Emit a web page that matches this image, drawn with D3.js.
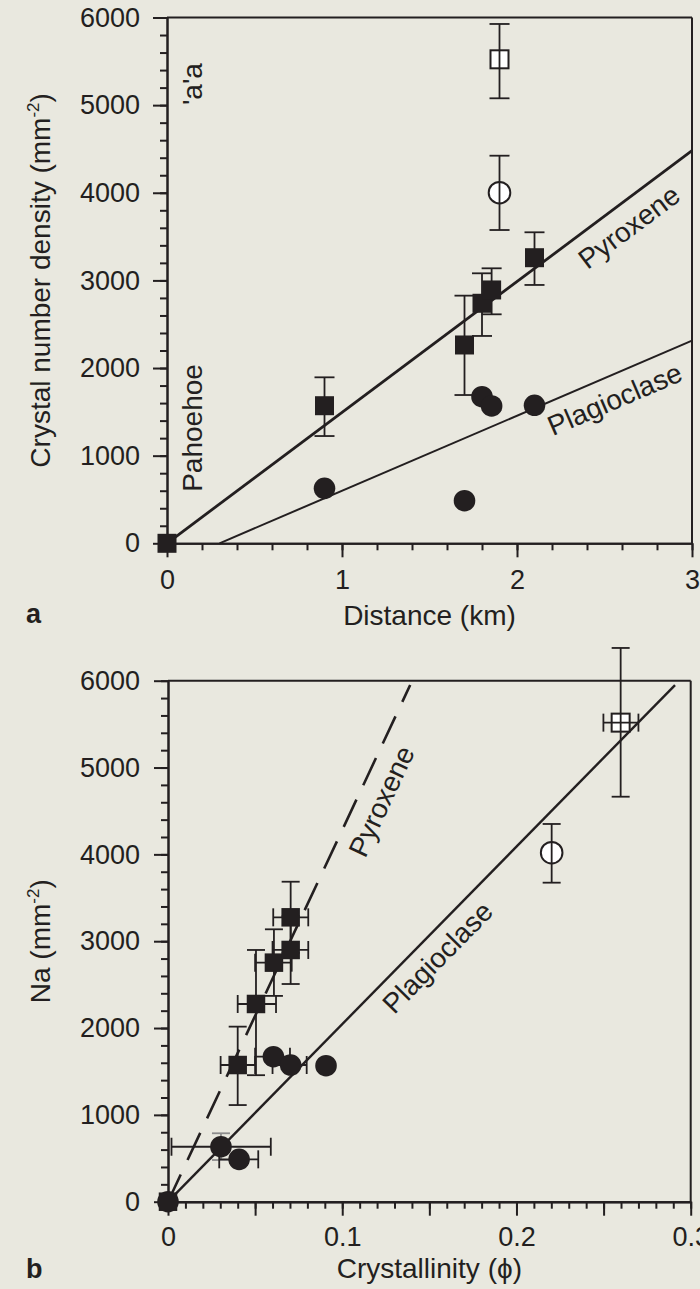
<!DOCTYPE html>
<html>
<head>
<meta charset="utf-8">
<script src="https://cdn.jsdelivr.net/npm/d3@7"></script>
<style>
  html, body { margin: 0; padding: 0; background: #e9e8df; }
  svg { display: block; }
  text { font-family: "Liberation Sans", Arial, Helvetica, sans-serif; fill: #231f20; }
</style>
</head>
<body>
<svg id="chart" width="700" height="1289"></svg>
<script>
// ---------- Panel a: crystal number density vs distance ----------
const distPyx     = [0, 0.9, 1.7, 1.8, 1.855, 2.1];
const densPyx     = [0, 1570, 2263, 2739, 2891, 3259];
const densPyxLo   = [null, 1224, 1692, 2366, 2613, 2948];
const densPyxHi   = [null, 1894, 2826, 3081, 3138, 3549];
const distPlag    = [0.9, 1.7, 1.8, 1.855, 2.1];
const densPlag    = [627, 486, 1673, 1567, 1575];
// 'a'a sample (open symbols)
const distAa      = [1.9];
const densAaPyx   = [5523];
const densAaPyxLo = [5078];
const densAaPyxHi = [5926];
const densAaPlag   = [4001];
const densAaPlagLo = [3575];
const densAaPlagHi = [4423];
// Linear trends
const fitDistPyx  = [0, 3];
const fitDensPyx  = [0, 4480];
const fitDistPlag = [0.3, 3];
const fitDensPlag = [0, 2312];
const distTicks     = [0, 1, 2, 3];
const densTicks     = [0, 1000, 2000, 3000, 4000, 5000, 6000];

// ---------- Panel b: areal number density vs crystallinity ----------
const phiPyx     = [0, 0.0400, 0.0505, 0.0608, 0.0704, 0.0704];
const naPyx      = [0, 1574, 2277, 2753, 2899, 3275];
const naPyxLo    = [null, 1113, 1457, 2370, 2507, 2865];
const naPyxHi    = [null, 2016, 2899, 3137, 3290, 3685];
const phiPyxLo   = [null, 0.0302, 0.0400, 0.0500, 0.0600, 0.0604];
const phiPyxHi   = [null, 0.0500, 0.0620, 0.0710, 0.0805, 0.0805];
const phiPlag    = [0, 0.0304, 0.0408, 0.0605, 0.0704, 0.0907];
const naPlag     = [0, 633, 488, 1670, 1574, 1566];
const phiPlagLo  = [null, 0.0020, 0.0294, 0.0500, 0.0600, null];
const phiPlagHi  = [null, 0.0590, 0.0518, 0.0700, 0.0796, null];
const naPlagLo   = [null, 480, null, null, null, null];
const naPlagHi   = [null, 788, null, null, null, null];
const phiAa      = [0.2598];
const naAaPyx    = [5517];
const naAaPyxLo  = [4664];
const naAaPyxHi  = [6377];
const phiAaPyxLo = [0.2499];
const phiAaPyxHi = [0.2700];
const phiAaPlag  = [0.2202];
const naAaPlag   = [4019];
const naAaPlagLo = [3674];
const naAaPlagHi = [4350];
const fitPhiPyx  = [0, 0.139];
const fitNaPyx   = [0, 5950];
const fitPhiPlag = [0, 0.291];
const fitNaPlag  = [0, 5950];
const phiTicks   = [0, 0.1, 0.2, 0.3];
const naTicks    = [0, 1000, 2000, 3000, 4000, 5000, 6000];

const INK = "#231f20";
const svg = d3.select("#chart");
svg.append("rect").attr("width", 700).attr("height", 1289).attr("fill", "#e9e8df");

// scales
const xA = d3.scaleLinear().domain([0, 3]).range([167, 692]);
const yA = d3.scaleLinear().domain([0, 6000]).range([543.3, 17.5]);
const xB = d3.scaleLinear().domain([0, 0.3]).range([168, 690.7]);
const yB = d3.scaleLinear().domain([0, 6000]).range([1201.7, 680.7]);

function styleAxis(g, fs) {
  g.select(".domain").attr("stroke", INK).attr("stroke-width", 2);
  g.selectAll(".tick line").attr("stroke", INK).attr("stroke-width", 2);
  g.selectAll(".tick text").attr("font-size", fs).attr("fill", INK)
    .attr("font-family", '"Liberation Sans", Arial, sans-serif');
}

function axes(g, x, y, o) {
  const x0 = x.range()[0], x1 = x.range()[1];
  const y0 = y.range()[0], y1 = y.range()[1];
  // frame (top and right)
  g.append("line").attr("x1", x0).attr("x2", x1).attr("y1", y1).attr("y2", y1)
    .attr("stroke", INK).attr("stroke-width", 2);
  g.append("line").attr("x1", x1).attr("x2", x1).attr("y1", y1).attr("y2", y0)
    .attr("stroke", INK).attr("stroke-width", 2);
  // y axis
  g.append("g").attr("transform", `translate(${x0},0)`)
    .call(d3.axisLeft(y).tickValues(o.yMinor).tickSize(7).tickFormat("").tickSizeOuter(0))
    .call(s => styleAxis(s, 27));
  g.append("g").attr("transform", `translate(${x0},0)`)
    .call(d3.axisLeft(y).tickValues(o.yMajor).tickSize(14).tickPadding(o.yPad)
      .tickFormat(d3.format("d")).tickSizeOuter(0))
    .call(s => styleAxis(s, 27));
  // x axis
  g.append("g").attr("transform", `translate(0,${y0})`)
    .call(d3.axisBottom(x).tickValues(o.xMinor).tickSize(7).tickFormat("").tickSizeOuter(0))
    .call(s => styleAxis(s, 27));
  if (o.xMid) {
    g.append("g").attr("transform", `translate(0,${y0})`)
      .call(d3.axisBottom(x).tickValues(o.xMid).tickSize(14).tickFormat("").tickSizeOuter(0))
      .call(s => styleAxis(s, 27));
  }
  g.append("g").attr("transform", `translate(0,${y0})`)
    .call(d3.axisBottom(x).tickValues(o.xMajor).tickSize(14).tickPadding(o.xPad)
      .tickFormat(o.xFmt).tickSizeOuter(0))
    .call(s => styleAxis(s, 27));
}

function fitLine(g, x, y, xs, ys, width, dash) {
  const l = g.append("line")
    .attr("x1", x(xs[0])).attr("y1", y(ys[0]))
    .attr("x2", x(xs[1])).attr("y2", y(ys[1]))
    .attr("stroke", INK).attr("stroke-width", width);
  if (dash) l.attr("stroke-dasharray", dash);
}

// label set parallel to a trend line, offset to its lower-right side
function fitLabel(g, x, y, xs, ys, at, text, off) {
  const px0 = x(xs[0]), py0 = y(ys[0]), px1 = x(xs[1]), py1 = y(ys[1]);
  const ang = Math.atan2(py1 - py0, px1 - px0) * 180 / Math.PI;
  const t = (at - xs[0]) / (xs[1] - xs[0]);
  const px = px0 + t * (px1 - px0), py = py0 + t * (py1 - py0);
  g.append("text").attr("transform", `translate(${px},${py}) rotate(${ang})`)
    .attr("text-anchor", "middle").attr("y", off).attr("font-size", 28).text(text);
}

function vErr(g, x, y, xs, lo, hi, cap, color) {
  xs.forEach((xv, i) => {
    if (lo[i] == null) return;
    const px = x(xv);
    const e = g.append("g").attr("stroke", color || INK).attr("stroke-width", 1.8);
    e.append("line").attr("x1", px).attr("x2", px).attr("y1", y(lo[i])).attr("y2", y(hi[i]));
    e.append("line").attr("x1", px - cap).attr("x2", px + cap).attr("y1", y(lo[i])).attr("y2", y(lo[i]));
    e.append("line").attr("x1", px - cap).attr("x2", px + cap).attr("y1", y(hi[i])).attr("y2", y(hi[i]));
  });
}

function hErr(g, x, y, ys, lo, hi, cap) {
  ys.forEach((yv, i) => {
    if (lo[i] == null) return;
    const py = y(yv);
    const e = g.append("g").attr("stroke", INK).attr("stroke-width", 1.8);
    e.append("line").attr("y1", py).attr("y2", py).attr("x1", x(lo[i])).attr("x2", x(hi[i]));
    e.append("line").attr("y1", py - cap).attr("y2", py + cap).attr("x1", x(lo[i])).attr("x2", x(lo[i]));
    e.append("line").attr("y1", py - cap).attr("y2", py + cap).attr("x1", x(hi[i])).attr("x2", x(hi[i]));
  });
}

function squares(g, x, y, xs, ys, size, open) {
  g.selectAll(null).data(xs.map((v, i) => [v, ys[i]])).join("rect")
    .attr("x", d => x(d[0]) - size / 2).attr("y", d => y(d[1]) - size / 2)
    .attr("width", size).attr("height", size)
    .attr("fill", open ? "#ffffff" : INK)
    .attr("stroke", INK).attr("stroke-width", open ? 2 : 0);
}

function circles(g, x, y, xs, ys, r, open) {
  g.selectAll(null).data(xs.map((v, i) => [v, ys[i]])).join("circle")
    .attr("cx", d => x(d[0])).attr("cy", d => y(d[1])).attr("r", r)
    .attr("fill", open ? "#ffffff" : INK)
    .attr("stroke", INK).attr("stroke-width", open ? 2 : 0);
}

function yTitle(g, cx, cy, main) {
  const t = g.append("text").attr("transform", `translate(${cx},${cy}) rotate(-90)`)
    .attr("text-anchor", "middle").attr("font-size", 28);
  t.append("tspan").text(main + " (mm");
  t.append("tspan").attr("font-size", 17).attr("dy", -11).text("-2");
  t.append("tspan").attr("dy", 11).text(")");
}

// ================= Panel a =================
const gA = svg.append("g");
axes(gA, xA, yA, {
  yMajor: densTicks, yMinor: d3.range(0, 6001, 200), yPad: 13,
  xMajor: distTicks, xMinor: d3.range(0, 3.001, 0.2), xPad: 12.7,
  xFmt: d3.format("d")
});
fitLine(gA, xA, yA, fitDistPyx, fitDensPyx, 2.8);
fitLine(gA, xA, yA, fitDistPlag, fitDensPlag, 2);
fitLabel(gA, xA, yA, fitDistPyx, fitDensPyx, 2.56, "Pyroxene", 33);
fitLabel(gA, xA, yA, fitDistPlag, fitDensPlag, 2.506, "Plagioclase", 33);

vErr(gA, xA, yA, distPyx, densPyxLo, densPyxHi, 10);
squares(gA, xA, yA, distPyx, densPyx, 19, false);
circles(gA, xA, yA, distPlag, densPlag, 10.8, false);
squares(gA, xA, yA, distAa, densAaPyx, 18, true);
circles(gA, xA, yA, distAa, densAaPlag, 10.8, true);
vErr(gA, xA, yA, distAa, densAaPyxLo, densAaPyxHi, 10);
vErr(gA, xA, yA, distAa, densAaPlagLo, densAaPlagHi, 10);

// flow-type annotations
gA.append("text").attr("transform", `translate(${xA(0.2)},${yA(5240)}) rotate(-90)`)
  .attr("text-anchor", "middle").attr("font-size", 28).text("'a'a");
gA.append("text").attr("transform", `translate(${xA(0.2)},${yA(1316)}) rotate(-90)`)
  .attr("text-anchor", "middle").attr("font-size", 28).text("Pahoehoe");

yTitle(gA, 50, (yA.range()[0] + yA.range()[1]) / 2, "Crystal number density");
gA.append("text").attr("x", (xA.range()[0] + xA.range()[1]) / 2).attr("y", 625)
  .attr("text-anchor", "middle").attr("font-size", 28).text("Distance (km)");
gA.append("text").attr("x", 26).attr("y", 623).attr("font-size", 27)
  .attr("font-weight", "bold").text("a");

// ================= Panel b =================
const gB = svg.append("g");
axes(gB, xB, yB, {
  yMajor: naTicks, yMinor: d3.range(0, 6001, 200), yPad: 14,
  xMajor: phiTicks, xMinor: d3.range(0, 0.3001, 0.01), xMid: [0.05, 0.15, 0.25], xPad: 11,
  xFmt: d => d === 0 ? "0" : d3.format(".1f")(d)
});
fitLine(gB, xB, yB, fitPhiPyx, fitNaPyx, 2.6, "30,16");
fitLine(gB, xB, yB, fitPhiPlag, fitNaPlag, 2.4);
fitLabel(gB, xB, yB, fitPhiPyx, fitNaPyx, 0.1104, "Pyroxene", 33);
fitLabel(gB, xB, yB, fitPhiPlag, fitNaPlag, 0.146, "Plagioclase", 31);

vErr(gB, xB, yB, phiPyx, naPyxLo, naPyxHi, 9);
hErr(gB, xB, yB, naPyx, phiPyxLo, phiPyxHi, 9);
vErr(gB, xB, yB, phiPlag, naPlagLo, naPlagHi, 9, "#8c8c8c");
hErr(gB, xB, yB, naPlag, phiPlagLo, phiPlagHi, 9);
circles(gB, xB, yB, phiPlag, naPlag, 10.8, false);
squares(gB, xB, yB, phiPyx, naPyx, 18.5, false);
squares(gB, xB, yB, phiAa, naAaPyx, 18, true);
circles(gB, xB, yB, [phiAaPlag[0]], naAaPlag, 10.8, true);
vErr(gB, xB, yB, phiAa, naAaPyxLo, naAaPyxHi, 9);
hErr(gB, xB, yB, naAaPyx, phiAaPyxLo, phiAaPyxHi, 9);
vErr(gB, xB, yB, phiAaPlag, naAaPlagLo, naAaPlagHi, 9);

yTitle(gB, 50, (yB.range()[0] + yB.range()[1]) / 2, "Na");
gB.append("text").attr("x", (xB.range()[0] + xB.range()[1]) / 2).attr("y", 1278)
  .attr("text-anchor", "middle").attr("font-size", 28).text("Crystallinity (\u03D5)");
gB.append("text").attr("x", 26).attr("y", 1278).attr("font-size", 27)
  .attr("font-weight", "bold").text("b");
</script>
</body>
</html>
